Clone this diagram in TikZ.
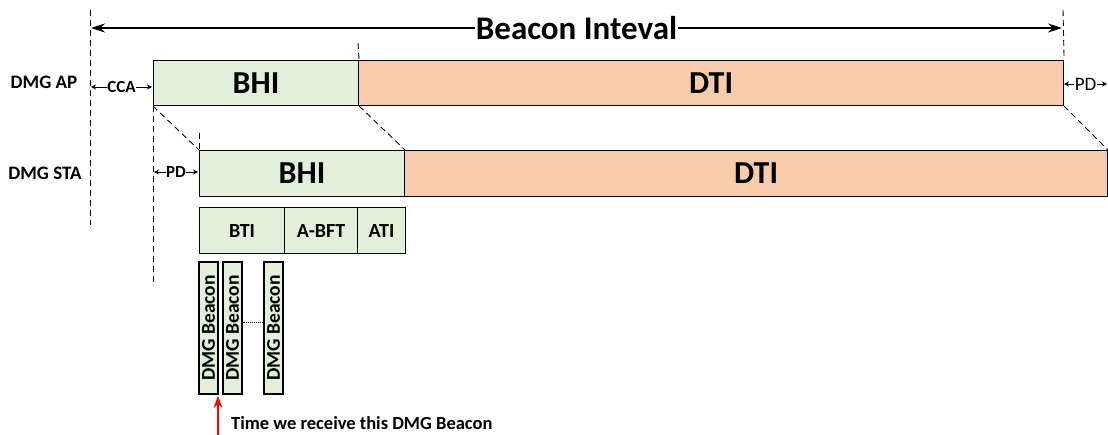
\documentclass[tikz,border=0pt]{standalone}
\usepackage{fontspec}
\setmainfont{Carlito}
\usetikzlibrary{arrows.meta}
\definecolor{bgreen}{HTML}{E2EFDA}
\definecolor{borange}{HTML}{F8CBAD}
\tikzset{
  gbox/.style={draw=black, line width=1.1pt, fill=bgreen, inner sep=0pt, font=\bfseries},
  obox/.style={draw=black, line width=1.1pt, fill=borange, inner sep=0pt, font=\bfseries},
  bigtxt/.style={font=\fontsize{32}{34}\bfseries\selectfont},
  midtxt/.style={font=\fontsize{20}{22}\bfseries\selectfont},
  dline/.style={line width=0.9pt, dash pattern=on 6pt off 4pt},
  lbl/.style={font=\fontsize{19}{21}\bfseries\selectfont, inner sep=0pt},
  dimarr/.style={line width=0.9pt, {Stealth[length=5pt,width=5pt]}-{Stealth[length=5pt,width=5pt]}},
  dimtxt/.style={fill=white, inner sep=0.5pt, font=\fontsize{17}{19}\bfseries\selectfont}
}
\begin{document}
\begin{tikzpicture}[x=1pt,y=-1pt]
\useasboundingbox (0,0) rectangle (1108,435);
% AP row
\node[gbox, bigtxt, anchor=north west, minimum width=205pt, minimum height=45pt] (apbhi) at (153,60) {BHI};
\node[obox, bigtxt, anchor=north west, minimum width=705pt, minimum height=45pt] (apdti) at (358,60) {DTI};
% STA row
\node[gbox, bigtxt, anchor=north west, minimum width=205pt, minimum height=46pt] (stabhi) at (199,150) {BHI};
\node[obox, bigtxt, anchor=north west, minimum width=703pt, minimum height=46pt] (stadti) at (404,150) {DTI};
% sub intervals
\node[gbox, midtxt, anchor=north west, minimum width=85pt, minimum height=46pt] (bti) at (199,207) {BTI};
\node[gbox, midtxt, anchor=north west, minimum width=73pt, minimum height=46pt] (abft) at (284,207) {A-BFT};
\node[gbox, midtxt, anchor=north west, minimum width=48pt, minimum height=46pt] (ati) at (357,207) {ATI};
% beacons
\node[gbox, rotate=90, minimum width=132pt, minimum height=19pt, font=\fontsize{19.5}{21}\bfseries\selectfont] (b1) at (208.5,328) {DMG Beacon};
\node[gbox, rotate=90, minimum width=132pt, minimum height=19pt, font=\fontsize{19.5}{21}\bfseries\selectfont] (b2) at (232.5,328) {DMG Beacon};
\node[gbox, rotate=90, minimum width=132pt, minimum height=19pt, font=\fontsize{19.5}{21}\bfseries\selectfont] (b3) at (273.5,328) {DMG Beacon};
\draw[line width=0.9pt, densely dotted] ([yshift=6pt]b2.south) -- ([yshift=6pt]b3.north);
% labels
\node[lbl] (aplbl) at (44,82) {DMG AP};
\node[lbl] (stalbl) at (45,173) {DMG STA};
% dashed guides
\coordinate (l1t) at (90,10); \coordinate (l1b) at (90,225);
\draw[dline] (l1t) -- (l1b);
\coordinate (r1t) at (1063,10);
\draw[dline] (r1t) -- (apdti.north east);
\coordinate (m1t) at (358,43);
\draw[dline] (m1t) -- (apbhi.north east);
\coordinate (s1b) at (153,285);
\draw[dline] (apbhi.south west) -- (s1b);
\coordinate (s2t) at (199,133);
\draw[dline] (s2t) -- (stabhi.north west);
\draw[dline] (apbhi.south west) -- (stabhi.north west);
\draw[dline] (apbhi.south east) -- (stabhi.north east);
\draw[dline] (apdti.south east) -- (stadti.north east);
% beacon interval
\coordinate (bil) at (91,28); \coordinate (bir) at (1062,28);
\draw[line width=1.1pt, {Stealth[length=14pt,width=9pt]}-{Stealth[length=14pt,width=9pt]}] (bil) -- (bir)
  node[midway, fill=white, inner sep=1pt, font=\fontsize{33}{35}\bfseries\selectfont] (bitxt) {Beacon Inteval};
% CCA
\coordinate (ccal) at (91,87); \coordinate (ccar) at (152,87);
\draw[dimarr] (ccal) -- (ccar) node[midway, dimtxt] (ccatxt) {CCA};
% PD STA
\coordinate (pdl) at (154,172); \coordinate (pdr) at (198,172);
\draw[dimarr] (pdl) -- (pdr) node[midway, dimtxt] (pdtxt) {PD};
% PD AP right
\coordinate (pd2l) at (1064,84); \coordinate (pd2r) at (1107,84);
\draw[dimarr] (pd2l) -- (pd2r) node[midway, fill=white, inner sep=0.5pt, font=\fontsize{19}{21}\selectfont] (pd2txt) {PD};
% red arrow
\coordinate (rb) at (218,437); \coordinate (rt) at (218,396);
\draw[red, line width=1.4pt, -{Stealth[length=12pt,width=9pt]}] (rb) -- (rt);
\node[anchor=west, inner sep=0pt, font=\fontsize{18.5}{20}\bfseries\selectfont] (timetxt) at (231,423) {Time we receive this DMG Beacon};
\end{tikzpicture}
\end{document}
